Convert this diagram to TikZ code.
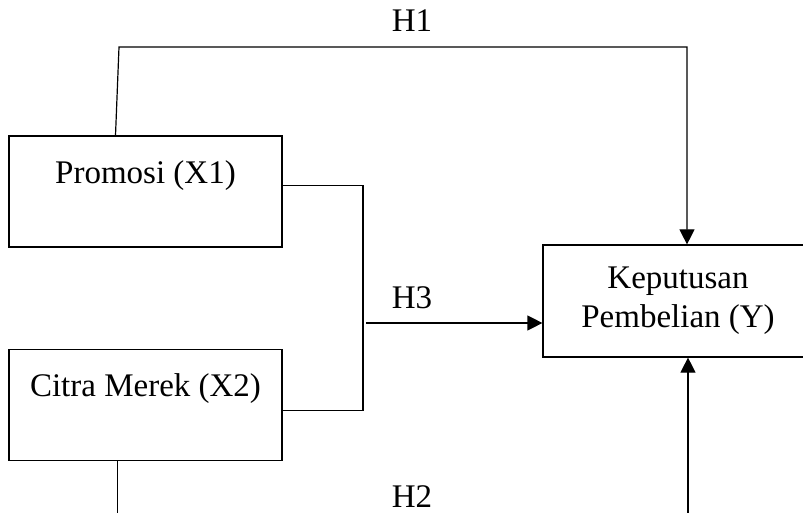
\documentclass[tikz,border=0pt]{standalone}
\usepackage{fontspec}
\setmainfont{Liberation Serif}
\usetikzlibrary{arrows.meta, positioning}

\begin{document}
\begin{tikzpicture}[
  x=1pt, y=-1pt,
  font=\fontsize{33}{39}\selectfont,
  box/.style={draw, line width=1.2pt, rectangle, minimum width=273pt,
              minimum height=111pt, align=center, inner sep=0pt},
  ln/.style={line width=1.2pt},
  ar/.style={ln, -{Triangle[length=15pt, width=15pt]}},
  hyp/.style={inner sep=0pt}
]
\useasboundingbox (0,0) rectangle (803,513);
\clip (0,0) rectangle (803,513);

\node[box] (promosi) at (145.5,191.5) {Promosi (X1)\\ \mbox{}};
\node[box, below=101pt of promosi] (citra) {Citra Merek (X2)\\ \mbox{}};
\node[box, minimum width=270pt, minimum height=112pt] (keputusan) at (678,301)
  {Keputusan\\ Pembelian (Y)};

% H1
\coordinate (h1) at (119,47);
\draw[ar] ([xshift=-30pt]promosi.north) -- (h1) -| ([xshift=9pt]keputusan.north);
\node[hyp] (lh1) at (412,21) {H1};

% H3
\coordinate (j) at (363,300);
\coordinate (h3) at (366,323);
\draw[ln] ([yshift=6pt]promosi.east) -| (j) |- ([yshift=-6pt]citra.east);
\draw[ar] (h3) -- (keputusan.west |- h3);
\node[hyp] (lh3) at (412,298) {H3};

% H2
\coordinate (h2) at (400,535);
\draw[ar] ([xshift=-28pt]citra.south) |- (h2) -| ([xshift=10pt]keputusan.south);
\node[hyp] (lh2) at (412,497) {H2};
\end{tikzpicture}
\end{document}
